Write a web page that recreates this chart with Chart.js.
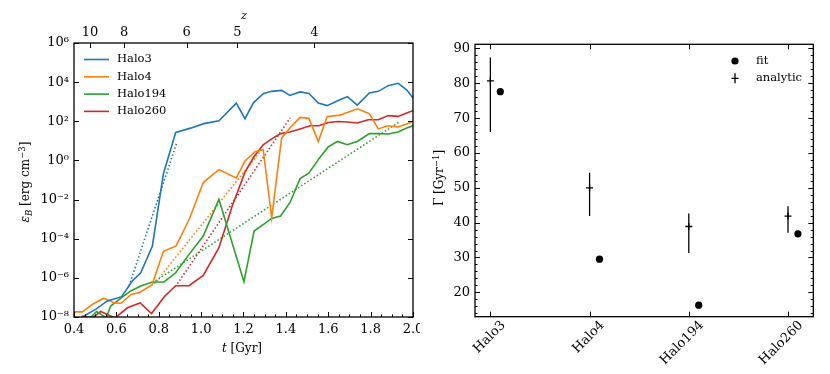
<!DOCTYPE html>
<html>
<head>
<meta charset="utf-8">
<script src="https://cdn.jsdelivr.net/npm/chart.js@4.4.0/dist/chart.umd.min.js"></script>
<style>
  html, body { margin: 0; padding: 0; background: #fff; }
  #wrap { position: relative; width: 830px; height: 374px; }
  #wrap canvas { position: absolute; top: 0; }
</style>
</head>
<body>
<div id="wrap">
  <canvas id="growthChart" width="420" height="374" style="left:0;width:420px;height:374px"></canvas>
  <canvas id="rateChart" width="410" height="374" style="left:420px;width:410px;height:374px"></canvas>
</div>
<script>
const SERIF = "'DejaVu Serif', 'Liberation Serif', serif";

// --- left panel: magnetic energy density vs time (log10 of eps_B) ---
const haloNames = ['Halo3', 'Halo4', 'Halo194', 'Halo260'];
const haloColors = ['#1f77b4', '#ff7f0e', '#2ca02c', '#d62728'];

const tHalo3 = [0.447, 0.502, 0.557, 0.625, 0.675, 0.715, 0.770, 0.822, 0.880, 0.950, 1.013, 1.084, 1.166, 1.207, 1.246, 1.293, 1.333, 1.380, 1.419, 1.467, 1.509, 1.553, 1.595, 1.650, 1.690, 1.737, 1.794, 1.836, 1.883, 1.930, 1.970, 2.000];
const logEHalo3 = [-7.95, -7.61, -7.18, -6.96, -6.16, -5.74, -4.37, -0.68, 1.43, 1.65, 1.88, 2.03, 2.93, 2.13, 2.93, 3.41, 3.53, 3.58, 3.32, 3.50, 3.42, 2.93, 2.80, 3.07, 3.26, 2.83, 3.45, 3.53, 3.82, 3.94, 3.61, 3.19];

const tHalo4 = [0.400, 0.440, 0.486, 0.540, 0.592, 0.622, 0.670, 0.709, 0.768, 0.822, 0.882, 0.945, 1.010, 1.084, 1.166, 1.207, 1.254, 1.293, 1.333, 1.380, 1.419, 1.467, 1.509, 1.553, 1.595, 1.650, 1.690, 1.737, 1.794, 1.836, 1.883, 1.930, 1.970, 2.000];
const logEHalo4 = [-7.74, -7.74, -7.36, -7.04, -7.28, -7.30, -6.85, -6.75, -6.36, -4.64, -4.37, -2.98, -1.13, -0.47, -0.90, -0.03, 0.45, 0.55, -2.93, 1.15, 1.66, 2.20, 2.15, 0.97, 2.25, 2.30, 2.45, 2.64, 2.39, 1.61, 1.77, 1.71, 1.86, 1.99];

const tHalo194 = [0.460, 0.507, 0.552, 0.573, 0.620, 0.668, 0.715, 0.770, 0.825, 0.880, 0.943, 1.010, 1.084, 1.202, 1.250, 1.293, 1.333, 1.375, 1.419, 1.467, 1.509, 1.556, 1.600, 1.643, 1.690, 1.737, 1.794, 1.841, 1.883, 1.930, 1.970, 2.000];
const logEHalo194 = [-8.2, -7.72, -8.05, -7.44, -7.05, -6.67, -6.42, -6.21, -6.21, -5.74, -4.80, -3.86, -1.99, -6.20, -3.61, -3.28, -2.96, -2.84, -2.16, -0.93, -0.64, 0.09, 0.69, 0.97, 0.80, 0.97, 1.37, 1.37, 1.35, 1.45, 1.66, 1.77];

const tHalo260 = [0.436, 0.486, 0.526, 0.594, 0.652, 0.712, 0.766, 0.828, 0.880, 0.943, 1.010, 1.084, 1.146, 1.207, 1.250, 1.293, 1.333, 1.375, 1.419, 1.467, 1.514, 1.556, 1.600, 1.647, 1.690, 1.737, 1.789, 1.836, 1.883, 1.930, 1.970, 2.000];
const logEHalo260 = [-7.95, -8.05, -7.72, -8.05, -7.53, -7.28, -7.82, -6.94, -6.40, -6.40, -5.88, -4.46, -2.35, -0.60, 0.20, 0.80, 1.10, 1.37, 1.45, 1.61, 1.77, 1.77, 1.94, 1.99, 1.96, 1.91, 2.08, 2.08, 2.29, 2.25, 2.42, 2.54];

// exponential growth fits (end points, dotted)
const fitT = [[0.66, 0.885], [0.78, 1.29], [0.77, 1.94], [0.888, 1.42]];
const fitLogE = [[-6.4, 0.9], [-6.3, 0.6], [-6.26, 2.0], [-6.3, 2.17]];

const tTicks = [0.4, 0.6, 0.8, 1.0, 1.2, 1.4, 1.6, 1.8, 2.0];
const logETicks = [-8, -6, -4, -2, 0, 2, 4, 6];
const zTicks = [10, 8, 6, 5, 4];
const zTickT = [0.476, 0.637, 0.932, 1.171, 1.535];

// --- right panel: growth rates ---
const gammaFit = [77.6, 29.5, 16.3, 36.8];
const gammaAnalytic = [80.7, 50.0, 38.9, 41.9];
const gammaLo = [66.0, 41.9, 31.3, 37.1];
const gammaHi = [87.4, 54.3, 42.6, 44.7];
const gammaTicks = [20, 30, 40, 50, 60, 70, 80, 90];
const fitShift = 0.1;

const SUP = { '-': '\u207b', '0': '\u2070', '1': '\u00b9', '2': '\u00b2', '3': '\u00b3', '4': '\u2074', '5': '\u2075', '6': '\u2076', '7': '\u2077', '8': '\u2078', '9': '\u2079' };
function pow10Label(e) {
  return '10' + String(e).split('').map(c => SUP[c]).join('');
}

const tickFont = { family: SERIF, size: 13 };
const noGrid = { display: false, drawTicks: false };

// keep the plot box fixed: no extra room for overhanging end labels
function fixHeight(h) {
  return s => { s.height = h; s.paddingLeft = 0; s.paddingRight = 0; };
}

// inward ticks on all sides + frame
const frameTicks = {
  id: 'frameTicks',
  afterDatasetsDraw(chart, args, opts) {
    const { ctx, chartArea: a } = chart;
    ctx.save();
    ctx.strokeStyle = '#000';
    ctx.lineWidth = 1;
    (opts.marks || []).forEach(m => {
      const scale = chart.scales[m.scale];
      m.values.forEach(v => {
        const p = Math.round(scale.getPixelForValue(v)) + 0.5;
        m.sides.forEach(side => {
          ctx.beginPath();
          if (side === 'bottom') { ctx.moveTo(p, a.bottom); ctx.lineTo(p, a.bottom - m.len); }
          if (side === 'top') { ctx.moveTo(p, a.top); ctx.lineTo(p, a.top + m.len); }
          if (side === 'left') { ctx.moveTo(a.left, p); ctx.lineTo(a.left + m.len, p); }
          if (side === 'right') { ctx.moveTo(a.right, p); ctx.lineTo(a.right - m.len, p); }
          ctx.stroke();
        });
      });
    });
    ctx.lineWidth = 1.3;
    ctx.strokeRect(a.left, a.top, a.right - a.left, a.bottom - a.top);
    ctx.restore();
  }
};

// legend drawn inside the axes, like matplotlib
const insetLegend = {
  id: 'insetLegend',
  afterDatasetsDraw(chart, args, opts) {
    const { ctx, chartArea: a } = chart;
    const x0 = opts.anchor === 'right' ? a.right - opts.x : a.left + opts.x;
    let y = a.top + opts.y;
    ctx.save();
    ctx.font = opts.font;
    ctx.textBaseline = 'middle';
    chart.data.datasets.filter(d => d.legendMarker).forEach(d => {
      ctx.strokeStyle = d.borderColor;
      ctx.fillStyle = d.borderColor;
      ctx.beginPath();
      if (d.legendMarker === 'line') {
        ctx.lineWidth = d.borderWidth;
        ctx.moveTo(x0, y);
        ctx.lineTo(x0 + opts.sample, y);
        ctx.stroke();
      } else if (d.legendMarker === 'dot') {
        ctx.arc(x0, y, 3.6, 0, Math.PI * 2);
        ctx.fill();
      } else {
        ctx.lineWidth = 1.3;
        ctx.moveTo(x0, y - 5); ctx.lineTo(x0, y + 5);
        ctx.moveTo(x0 - 3.5, y); ctx.lineTo(x0 + 3.5, y);
        ctx.stroke();
      }
      ctx.fillStyle = '#000';
      ctx.fillText(d.label, x0 + opts.sample + opts.gap, y);
      y += opts.rowHeight;
    });
    ctx.restore();
  }
};

// axis titles with sub/superscripts
const richTitles = {
  id: 'richTitles',
  afterDraw(chart, args, opts) {
    const ctx = chart.ctx;
    const fontOf = p => (p.italic ? 'italic ' : '') + p.size + 'px ' + SERIF;
    (opts.items || []).forEach(item => {
      ctx.save();
      ctx.translate(item.x, item.y);
      ctx.rotate(item.rot || 0);
      ctx.textBaseline = 'alphabetic';
      ctx.fillStyle = '#000';
      let w = 0;
      item.parts.forEach(p => { ctx.font = fontOf(p); w += ctx.measureText(p.text).width; });
      let x = -w / 2;
      item.parts.forEach(p => {
        ctx.font = fontOf(p);
        ctx.fillText(p.text, x, p.dy || 0);
        x += ctx.measureText(p.text).width;
      });
      ctx.restore();
    });
  }
};

// minor tick positions
const tMinor = [];
for (let k = 8; k <= 40; k++) if (k % 4 !== 0) tMinor.push(k * 0.05);
const gammaMinor = [];
for (let g = 14; g <= 90; g += 2) if (g % 10 !== 0) gammaMinor.push(g);

// --- left chart ---
const seriesT = [tHalo3, tHalo4, tHalo194, tHalo260];
const seriesLogE = [logEHalo3, logEHalo4, logEHalo194, logEHalo260];

const growthDatasets = haloNames.map((name, i) => ({
  label: name,
  data: seriesT[i].map((t, j) => ({ x: t, y: Math.pow(10, seriesLogE[i][j]) })),
  borderColor: haloColors[i],
  borderWidth: 1.6,
  pointRadius: 0,
  legendMarker: 'line'
}));
haloNames.forEach((name, i) => {
  growthDatasets.push({
    label: name + ' fit',
    data: fitT[i].map((t, j) => ({ x: t, y: Math.pow(10, fitLogE[i][j]) })),
    borderColor: haloColors[i],
    borderWidth: 1.6,
    borderDash: [1.5, 2.2],
    pointRadius: 0
  });
});

new Chart(document.getElementById('growthChart'), {
  type: 'line',
  data: { datasets: growthDatasets },
  options: {
    responsive: false,
    animation: false,
    devicePixelRatio: 1,
    layout: { padding: { right: 7, top: 0, left: 0, bottom: 0 } },
    plugins: {
      legend: { display: false },
      tooltip: { enabled: false },
      insetLegend: { x: 10, y: 16.5, sample: 25, gap: 8, rowHeight: 17.3, font: '11.5px ' + SERIF },
      frameTicks: {
        marks: [
          { scale: 'x', values: tTicks, sides: ['bottom'], len: 5 },
          { scale: 'x', values: tMinor, sides: ['bottom'], len: 2.5 },
          { scale: 'xTop', values: zTickT, sides: ['top'], len: 5 },
          { scale: 'y', values: logETicks.map(e => Math.pow(10, e)), sides: ['left', 'right'], len: 5 }
        ]
      },
      richTitles: {
        items: [
          { x: 242, y: 352, parts: [{ text: 't', size: 12, italic: true }, { text: ' [Gyr]', size: 12 }] },
          { x: 244, y: 18.5, parts: [{ text: 'z', size: 11, italic: true }] },
          { x: 29, y: 182, rot: -Math.PI / 2, parts: [
            { text: '\u03b5', size: 12, italic: true },
            { text: 'B', size: 8.5, italic: true, dy: 3 },
            { text: ' [erg cm', size: 12 },
            { text: '\u22123', size: 8.5, dy: -4.5 },
            { text: ']', size: 12 }
          ] }
        ]
      }
    },
    scales: {
      x: {
        type: 'linear', position: 'bottom', min: 0.4, max: 2.0,
        grid: noGrid, border: { display: false },
        afterBuildTicks: s => { s.ticks = tTicks.map(v => ({ value: v })); },
        afterFit: fixHeight(57),
        ticks: { callback: v => v.toFixed(1), font: tickFont, color: '#000', padding: 5, maxRotation: 0, autoSkip: false }
      },
      xTop: {
        type: 'linear', position: 'top', min: 0.4, max: 2.0,
        grid: noGrid, border: { display: false },
        afterBuildTicks: s => { s.ticks = zTickT.map(v => ({ value: v })); },
        afterFit: fixHeight(43),
        ticks: { callback: (v, i) => String(zTicks[i]), font: tickFont, color: '#000', padding: 3, maxRotation: 0, autoSkip: false }
      },
      y: {
        type: 'logarithmic', min: 1e-8, max: 1e6,
        grid: noGrid, border: { display: false },
        afterBuildTicks: s => { s.ticks = logETicks.map(e => ({ value: Math.pow(10, e) })); },
        afterFit: s => { s.width = 74; },
        ticks: { callback: v => pow10Label(Math.round(Math.log10(v))), font: tickFont, color: '#000', padding: 5, autoSkip: false }
      }
    }
  },
  plugins: [frameTicks, insetLegend, richTitles]
});

// --- right chart ---
const errorSegments = [];
haloNames.forEach((name, i) => {
  errorSegments.push({ x: i, y: gammaLo[i] }, { x: i, y: gammaHi[i] }, { x: i, y: null });
});

new Chart(document.getElementById('rateChart'), {
  type: 'line',
  data: {
    datasets: [
      {
        label: 'fit',
        data: haloNames.map((n, i) => ({ x: i + fitShift, y: gammaFit[i] })),
        showLine: false,
        pointStyle: 'circle',
        pointRadius: 3.6,
        backgroundColor: '#000',
        borderColor: '#000',
        borderWidth: 0,
        legendMarker: 'dot'
      },
      {
        label: 'analytic',
        data: haloNames.map((n, i) => ({ x: i, y: gammaAnalytic[i] })),
        showLine: false,
        pointStyle: 'cross',
        pointRadius: 3.5,
        borderColor: '#000',
        borderWidth: 1.3,
        legendMarker: 'plus'
      },
      {
        label: 'error',
        data: errorSegments,
        borderColor: '#000',
        borderWidth: 1.3,
        pointRadius: 0,
        spanGaps: false
      }
    ]
  },
  options: {
    responsive: false,
    animation: false,
    devicePixelRatio: 1,
    layout: { padding: { right: 16.7, top: 44.3, left: 0, bottom: 0 } },
    plugins: {
      legend: { display: false },
      tooltip: { enabled: false },
      insetLegend: { anchor: 'right', x: 78.3, y: 16.7, sample: 0, gap: 21, rowHeight: 17.3, font: '11.5px ' + SERIF },
      frameTicks: {
        marks: [
          { scale: 'x', values: [0, 1, 2, 3], sides: ['bottom', 'top'], len: 5 },
          { scale: 'y', values: gammaTicks, sides: ['left', 'right'], len: 5 },
          { scale: 'y', values: gammaMinor, sides: ['left', 'right'], len: 2.5 }
        ]
      },
      richTitles: {
        items: [
          { x: 23, y: 178, rot: -Math.PI / 2, parts: [
            { text: '\u0393 [Gyr', size: 12 },
            { text: '\u22121', size: 8.5, dy: -4.5 },
            { text: ']', size: 12 }
          ] }
        ]
      }
    },
    scales: {
      x: {
        type: 'linear', position: 'bottom', min: -0.155, max: 3.255,
        grid: noGrid, border: { display: false },
        afterBuildTicks: s => { s.ticks = [0, 1, 2, 3].map(v => ({ value: v })); },
        afterFit: fixHeight(57.3),
        ticks: { callback: v => haloNames[v], font: tickFont, color: '#000', padding: 1, minRotation: 45, maxRotation: 45, labelOffset: 13, autoSkip: false }
      },
      y: {
        type: 'linear', min: 13, max: 91.2,
        grid: noGrid, border: { display: false },
        afterBuildTicks: s => { s.ticks = gammaTicks.map(v => ({ value: v })); },
        afterFit: s => { s.width = 55; },
        ticks: { font: tickFont, color: '#000', padding: 5, autoSkip: false }
      }
    }
  },
  plugins: [frameTicks, insetLegend, richTitles]
});
</script>
</body>
</html>
